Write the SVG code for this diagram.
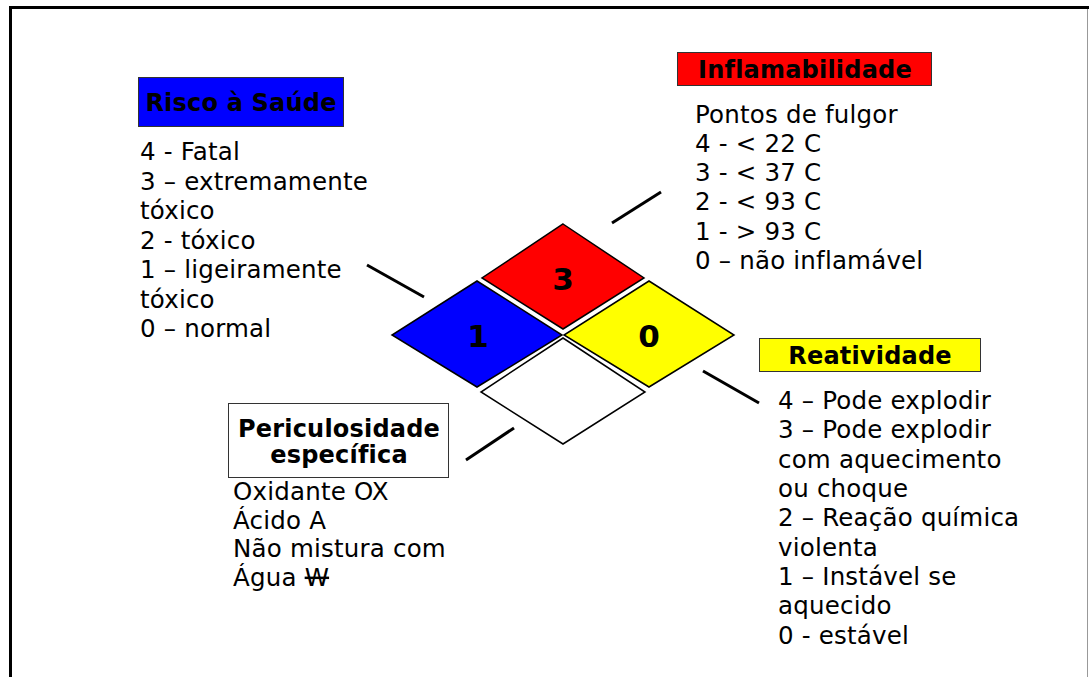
<svg xmlns="http://www.w3.org/2000/svg" width="1089" height="677" viewBox="0 0 1089 677">
<style>
.t{font-family:"DejaVu Sans","Verdana",sans-serif;font-size:24.5px;fill:#000;letter-spacing:0.2px}
.h{font-family:"DejaVu Sans","Verdana",sans-serif;font-size:24px;font-weight:bold;fill:#000;letter-spacing:0.2px;text-anchor:middle}
.n{font-family:"DejaVu Sans","Verdana",sans-serif;font-size:31px;font-weight:bold;fill:#000;text-anchor:middle}
.box{stroke:#333;stroke-width:1}
.dm{stroke:#000;stroke-width:1.5;stroke-linejoin:miter}
.c{stroke:#000;stroke-width:3;fill:none}
</style>
<rect width="1089" height="677" fill="#fff"/>
<g id="frame">
<line x1="1087.5" y1="9" x2="1087.5" y2="677" stroke="#999" stroke-width="1"/>
<line x1="9" y1="7.5" x2="1089" y2="7.5" stroke="#000" stroke-width="3"/>
<line x1="10.5" y1="6" x2="10.5" y2="677" stroke="#000" stroke-width="3"/>
</g>
<g id="diamond">
<polygon class="dm" points="563,224 644,278 563,329 482,278" fill="#FF0000"/>
<polygon class="dm" points="477,281 562,335 477,387 392,335" fill="#0000FF"/>
<polygon class="dm" points="649,281 734,335 649,387 564,335" fill="#FFFF00"/>
<polygon class="dm" points="563,338 645,392 563,444 481,392" fill="#FFFFFF"/>
<text class="n" x="563" y="290">3</text>
<text class="n" x="478" y="347">1</text>
<text class="n" x="649" y="347">0</text>
</g>
<g id="connectors">
<line class="c" x1="367" y1="265" x2="424" y2="297"/>
<line class="c" x1="612" y1="223" x2="661" y2="192"/>
<line class="c" x1="703" y1="371" x2="759" y2="403"/>
<line class="c" x1="466" y1="460" x2="514" y2="428"/>
</g>
<g id="saude">
<rect class="box" x="138.5" y="77.5" width="205" height="49" fill="#0000FF"/>
<text class="h" x="241" y="111">Risco à Saúde</text>
<text class="t" x="140" y="160">4 - Fatal</text>
<text class="t" x="140" y="189.5">3 – extremamente</text>
<text class="t" x="140" y="219">tóxico</text>
<text class="t" x="140" y="248.5">2 - tóxico</text>
<text class="t" x="140" y="278">1 – ligeiramente</text>
<text class="t" x="140" y="307.5">tóxico</text>
<text class="t" x="140" y="337">0 – normal</text>
</g>
<g id="inflamabilidade">
<rect class="box" x="677.5" y="52.5" width="254" height="33" fill="#FF0000"/>
<text class="h" x="805" y="78">Inflamabilidade</text>
<text class="t" x="695" y="123">Pontos de fulgor</text>
<text class="t" x="695" y="152">4 - &lt; 22 C</text>
<text class="t" x="695" y="181">3 - &lt; 37 C</text>
<text class="t" x="695" y="210">2 - &lt; 93 C</text>
<text class="t" x="695" y="239.5">1 - &gt; 93 C</text>
<text class="t" x="695" y="269">0 – não inflamável</text>
</g>
<g id="reatividade">
<rect class="box" x="759.5" y="338.5" width="221" height="33" fill="#FFFF00"/>
<text class="h" x="870" y="364">Reatividade</text>
<text class="t" x="778" y="409">4 – Pode explodir</text>
<text class="t" x="778" y="438.3">3 – Pode explodir</text>
<text class="t" x="778" y="467.5">com aquecimento</text>
<text class="t" x="778" y="496.8">ou choque</text>
<text class="t" x="778" y="526">2 – Reação química</text>
<text class="t" x="778" y="555.5">violenta</text>
<text class="t" x="778" y="585">1 – Instável se</text>
<text class="t" x="778" y="614.3">aquecido</text>
<text class="t" x="778" y="643.5">0 - estável</text>
</g>
<g id="periculosidade">
<rect class="box" x="228.5" y="403.5" width="220" height="74" fill="#FFFFFF"/>
<text class="h" x="339" y="436.5">Periculosidade</text>
<text class="h" x="339" y="462.5">específica</text>
<text class="t" x="233" y="500">Oxidante OX</text>
<text class="t" x="233" y="528.5">Ácido A</text>
<text class="t" x="233" y="557">Não mistura com</text>
<text class="t" x="233" y="585.5">Água <tspan text-decoration="line-through">W</tspan></text>
</g>
</svg>
